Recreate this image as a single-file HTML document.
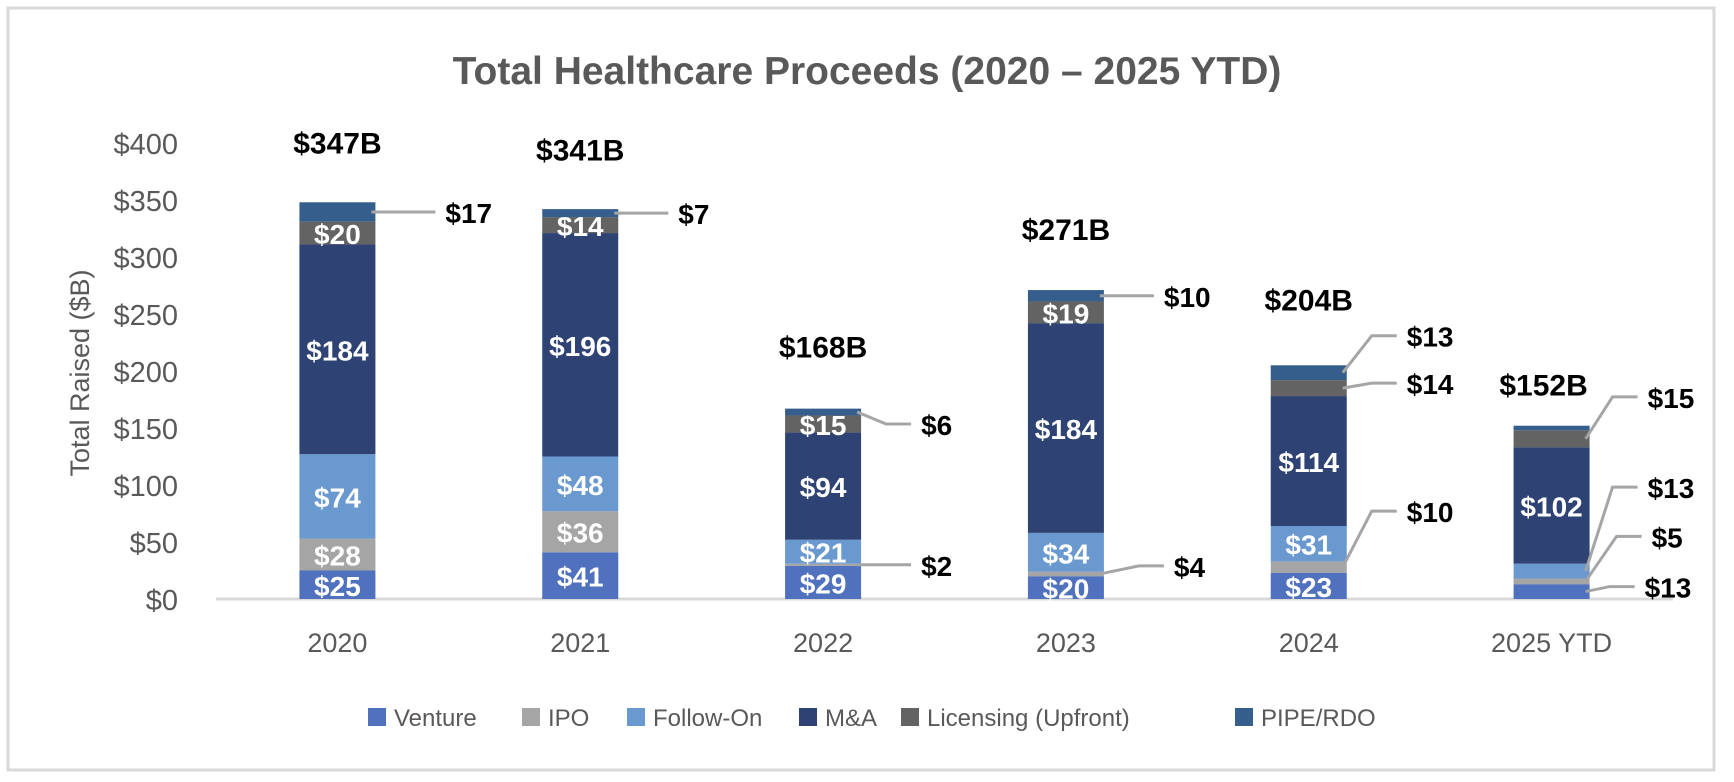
<!DOCTYPE html>
<html><head><meta charset="utf-8"><style>
html,body{margin:0;padding:0;background:#fff}
svg{display:block;font-family:"Liberation Sans",sans-serif}
</style></head><body>
<svg id="chart" width="1734" height="782" viewBox="0 0 1734 782">
<rect x="8" y="8" width="1706" height="762" fill="#fff" stroke="#d9d9d9" stroke-width="3"/>
<text x="867" y="84" text-anchor="middle" font-size="39" font-weight="bold" fill="#595959">Total Healthcare Proceeds (2020 – 2025 YTD)</text>
<text transform="translate(89,373) rotate(-90)" text-anchor="middle" font-size="27" fill="#595959">Total Raised ($B)</text>
<g id="g"></g>
</svg>
<script>
const categories = ["2020","2021","2022","2023","2024","2025 YTD"];
const seriesNames = ["Venture","IPO","Follow-On","M&A","Licensing (Upfront)","PIPE/RDO"];
const venture = [25,41,29,20,23,13];
const ipo = [28,36,2,4,10,5];
const followOn = [74,48,21,34,31,13];
const mna = [184,196,94,184,114,102];
const licensing = [20,14,15,19,14,15];
const pipe = [17,7,6,10,13,4];
const totals = [347,341,168,271,204,152];
const yTicks = [0,50,100,150,200,250,300,350,400];
const colors = ["#4F71BE","#A5A5A5","#6A99D0","#2E4374","#636363","#355E8D"];
const series = [venture, ipo, followOn, mna, licensing, pipe];
const insideLabels = [[1,1,1,1,1,0],[1,1,1,1,1,0],[1,0,1,1,1,0],[1,0,1,1,1,0],[1,0,1,1,0,0],[0,0,0,1,0,0]];
// callouts: [catIndex, seriesIndex, labelDx from bar right, labelY offset from segment mid]
const callouts = [[0,5,70,0],[1,5,60,0],[2,5,60,12],[2,1,60,0],[3,5,60,0],[3,1,70,-8],[4,5,60,-37],[4,4,60,-5],[4,1,60,-56],[5,4,58,-42],[5,2,58,-84],[5,1,62,-45],[5,0,55,-5]];

const NS = "http://www.w3.org/2000/svg";
const g = document.getElementById("g");
const x0 = 216, x1 = 1673, y0 = 599, yPerUnit = 1.14, barW = 76;
const band = (x1 - x0) / categories.length;
const xScale = i => x0 + band * (i + 0.5);
const yScale = v => y0 - v * yPerUnit;
function mk(tag, attrs, text){const e=document.createElementNS(NS,tag);for(const k in attrs)e.setAttribute(k,attrs[k]);if(text!==undefined)e.textContent=text;g.appendChild(e);return e;}

yTicks.forEach(t=>{
  const e = mk("text",{x:178,y:yScale(t)+11,"text-anchor":"end","font-size":29,fill:"#595959"},"$"+t);
  
  
});
const ax = mk("line",{x1:x0,x2:x1,y1:y0,y2:y0,stroke:"#d9d9d9","stroke-width":3});



categories.forEach((c,i)=>{
  let cum = 0;
  const cx = xScale(i);
  series.forEach((s,k)=>{
    const v = s[i];
    const yt = yScale(cum+v), yb = yScale(cum);
    const r = mk("rect",{x:cx-barW/2,y:yt,width:barW,height:yb-yt,fill:colors[k]});
    
    
    if(insideLabels[i][k]){
      const t = mk("text",{x:cx,y:(yt+yb)/2+11,"text-anchor":"middle","font-size":28,"font-weight":"bold",fill:"#fff"},"$"+v);
      
      
    }
    cum += v;
  });
  const tl = mk("text",{x:cx+(i==5?-8:0),y:yScale(totals[i])-(i==5?30:i==4?56:50),"text-anchor":"middle","font-size":30,"font-weight":"bold",fill:"#000"},"$"+totals[i]+"B");
  
  
  const xl = mk("text",{x:cx,y:652,"text-anchor":"middle","font-size":27,fill:"#595959"},c);
  
  
});

callouts.forEach(([i,k,dx,dy])=>{
  let cum=0; for(let j=0;j<k;j++) cum+=series[j][i];
  const v = series[k][i];
  const mid = yScale(cum+v/2);
  const bx = xScale(i)+barW/2;
  const ly = mid+dy;
  const p = mk("polyline",{points:`${bx-4},${mid} ${bx+dx-35},${ly} ${bx+dx-10},${ly}`,fill:"none",stroke:"#A5A5A5","stroke-width":3});
  
  
  const t = mk("text",{x:bx+dx,y:ly+11,"font-size":28,"font-weight":"bold",fill:"#000"},"$"+v);
  
  
});

const legX = [368,522,627,799,901,1235];
seriesNames.forEach((n,k)=>{
  const r = mk("rect",{x:legX[k],y:708,width:18,height:18,fill:colors[k]});
  
  
  const t = mk("text",{x:legX[k]+26,y:726,"font-size":24,fill:"#595959"},n);
  
  
});
</script>
</body></html>
